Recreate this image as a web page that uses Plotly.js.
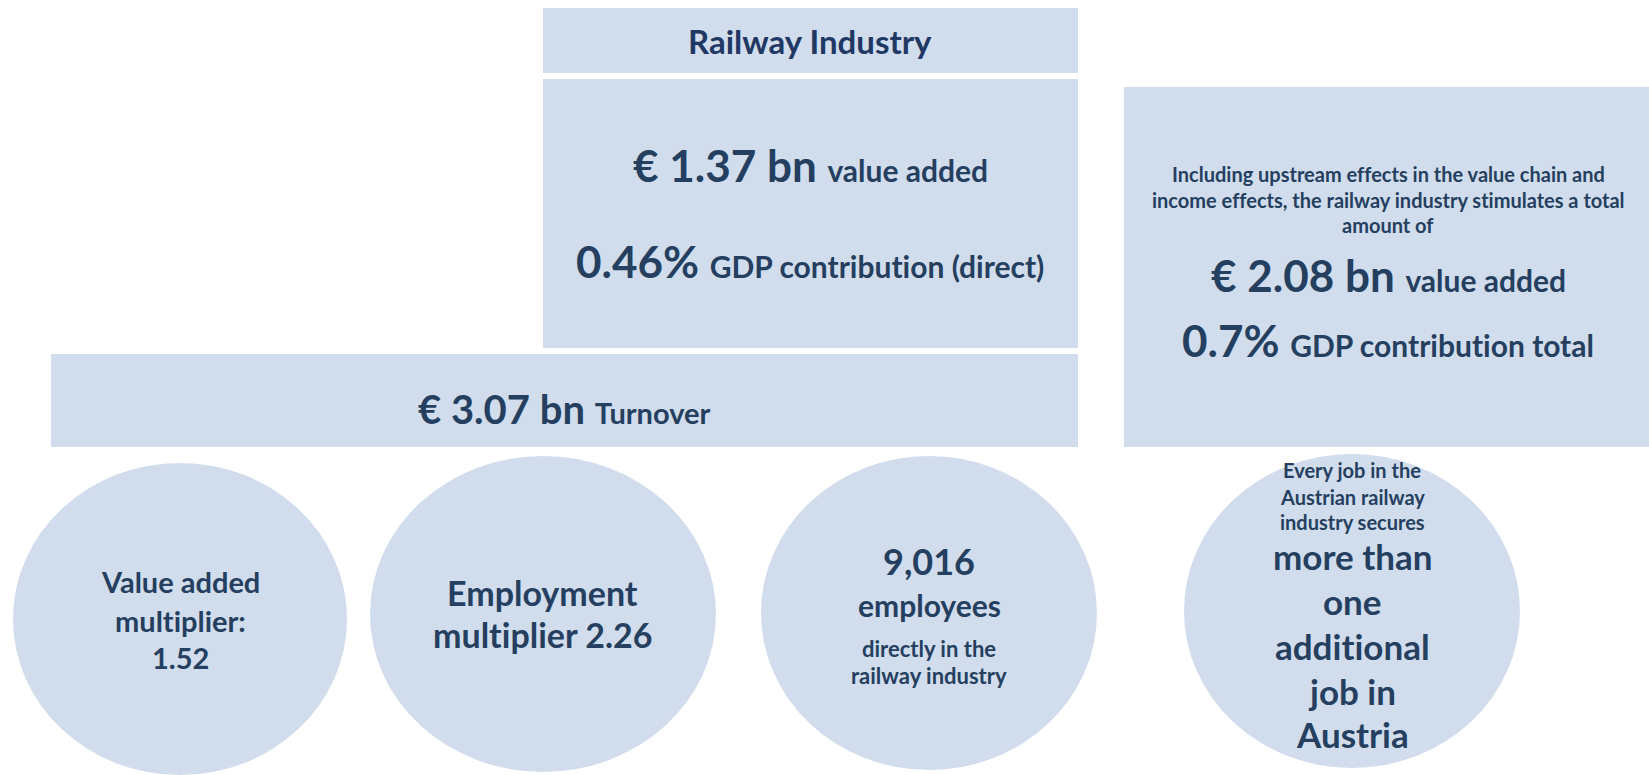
<!DOCTYPE html>
<html>
<head>
<meta charset="utf-8">
<script src="https://cdn.plot.ly/plotly-3.0.1.min.js"></script>
<style>
html,body{margin:0;padding:0;background:#fff;}
#chart{width:1649px;height:775px;}
svg text{font-variant-ligatures:none;font-feature-settings:"liga" 0,"clig" 0;}
</style>
</head>
<body>
<div id="chart"></div>
<script>
// ---- Data (texts and figures of the infographic) ----
const headerTitle = "Railway Industry";
const directValue = ["€ 1.37 bn", "value added"];
const directGdp = ["0.46%", "GDP contribution (direct)"];
const turnover = ["€ 3.07 bn", "Turnover"];
const totalIntro = ["Including upstream effects in the value chain and",
                    "income effects, the railway industry stimulates a total",
                    "amount of"];
const totalValue = ["€ 2.08 bn", "value added"];
const totalGdp = ["0.7%", "GDP contribution total"];
const valueMultiplier = ["Value added", "multiplier:", "1.52"];
const employmentMultiplier = ["Employment", "multiplier 2.26"];
const employees = ["9,016", "employees", "directly in the", "railway industry"];
const jobIntro = ["Every job in the", "Austrian railway", "industry secures"];
const jobMain = ["more than", "one", "additional", "job in", "Austria"];

// ---- Styling / layout ----
const FILL = "#D1DDEC";
const TXT = "#243F60";
const TITLE = "#1F3864";
const FONT = "Lato, 'Open Sans', sans-serif";

const shapes = [];
function rect(x0, y0, x1, y1) {
  shapes.push({type: "rect", xref: "x", yref: "y", x0, y0, x1, y1,
               fillcolor: FILL, line: {width: 0}, layer: "below"});
}
function ellipse(cx, cy, rx, ry) {
  shapes.push({type: "circle", xref: "x", yref: "y", x0: cx - rx, x1: cx + rx,
               y0: cy - ry, y1: cy + ry, fillcolor: FILL, line: {width: 0}, layer: "below"});
}
rect(543, 8, 1078, 73);      // header
rect(543, 79, 1078, 348);    // direct value box
rect(51, 354, 1078, 447);    // turnover
rect(1124, 87, 1649, 447);   // total effects box
ellipse(180, 619, 167, 156);
ellipse(543, 614, 173, 158);
ellipse(929, 613, 168, 157);
ellipse(1352, 611, 168, 157);

const annotations = [];
function line(x, baseline, text, fs, color, smallText, smallFs) {
  let t = text;
  if (smallText) t = text + ' <span style="font-size:' + smallFs + 'px">' + smallText + '</span>';
  annotations.push({
    x: x, y: baseline - 0.387 * fs, xref: "x", yref: "y",
    text: t, showarrow: false, xanchor: "center", yanchor: "middle",
    font: {family: FONT, size: fs, color: color || TXT, weight: 700}
  });
}

line(810, 54, headerTitle, 33, TITLE);
line(810, 182, directValue[0], 44, TXT, directValue[1], 30);
line(810, 278, directGdp[0], 44, TXT, directGdp[1], 30);
line(564, 424, turnover[0], 40, TXT, turnover[1], 29);

const introBase = [182, 208, 233];
totalIntro.forEach((s, i) => line(1388, introBase[i], s, 20, TXT));
line(1388, 292, totalValue[0], 44, TXT, totalValue[1], 30);
line(1388, 357, totalGdp[0], 44, TXT, totalGdp[1], 30);

const vmBase = [593, 632, 669];
valueMultiplier.forEach((s, i) => line(180, vmBase[i], s, 29, TXT));
const emBase = [606, 648];
employmentMultiplier.forEach((s, i) => line(542, emBase[i], s, 34, TXT));

line(929, 575, employees[0], 36, TXT);
line(929, 617, employees[1], 30, TXT);
line(929, 657, employees[2], 22, TXT);
line(929, 684, employees[3], 22, TXT);

const jiBase = [478, 505, 530];
jobIntro.forEach((s, i) => line(1352, jiBase[i], s, 20, TXT));
const jmBase = [570, 615, 660, 705, 748];
jobMain.forEach((s, i) => line(1352, jmBase[i], s, 35, TXT));

const layout = {
  width: 1649, height: 775,
  margin: {l: 0, r: 0, t: 0, b: 0, pad: 0},
  paper_bgcolor: "#ffffff", plot_bgcolor: "#ffffff",
  xaxis: {range: [0, 1649], visible: false, fixedrange: true},
  yaxis: {range: [775, 0], visible: false, fixedrange: true},
  showlegend: false,
  shapes: shapes,
  annotations: annotations
};

Plotly.newPlot("chart", [{x: [], y: [], type: "scatter", mode: "markers", hoverinfo: "skip"}], layout,
  {displayModeBar: false, staticPlot: true});
</script>
</body>
</html>
